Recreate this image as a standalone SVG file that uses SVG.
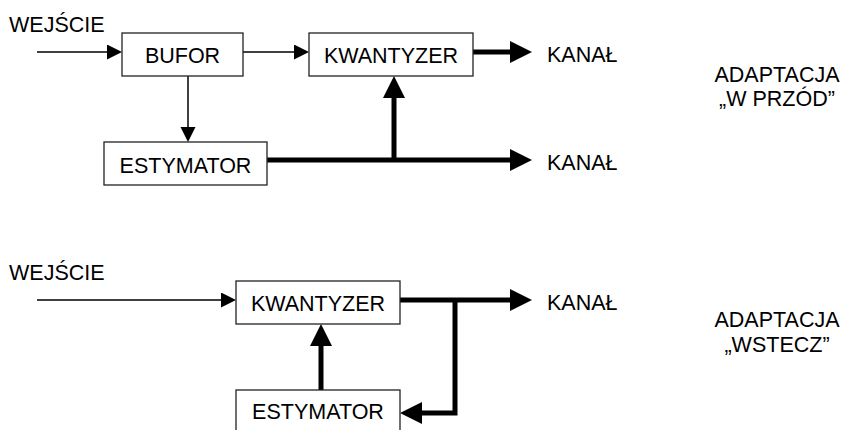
<svg xmlns="http://www.w3.org/2000/svg" width="843" height="430" viewBox="0 0 843 430">
<style>
text{font-family:"Liberation Sans",Arial,sans-serif;font-size:21.5px;fill:#000}
.box{fill:#fff;stroke:#222;stroke-width:1.3}
.thin{fill:none;stroke:#000;stroke-width:1.5}
.thick{fill:none;stroke:#000;stroke-width:5}
.c{text-anchor:middle}
</style>
<defs>
<marker id="ah" markerUnits="userSpaceOnUse" markerWidth="16" markerHeight="16" refX="10" refY="7.5" orient="auto" viewBox="0 0 16 16">
<path d="M0,0 L15,7.5 L0,15 z" fill="#000"/>
</marker>
<marker id="AH" markerUnits="userSpaceOnUse" markerWidth="24" markerHeight="24" refX="10" refY="11" orient="auto" viewBox="0 0 24 24">
<path d="M0,0 L22,11 L0,22 z" fill="#000"/>
</marker>
</defs>

<g id="labels">
<text x="9" y="32">WEJŚCIE</text>
<text x="547" y="62">KANAŁ</text>
<text x="547" y="170">KANAŁ</text>
<text x="777" y="82" class="c">ADAPTACJA</text>
<text x="777" y="106" class="c">„W PRZÓD”</text>
<text x="9" y="280">WEJŚCIE</text>
<text x="547" y="310">KANAŁ</text>
<text x="777" y="327" class="c">ADAPTACJA</text>
<text x="777" y="352" class="c">„WSTECZ”</text>
</g>

<g id="connectors">
<path class="thin" d="M37,52 H117" marker-end="url(#ah)"/>
<path class="thin" d="M243,52 H304" marker-end="url(#ah)"/>
<path class="thin" d="M188,76 V137" marker-end="url(#ah)"/>
<path class="thick" d="M473,52 H520" marker-end="url(#AH)"/>
<path class="thick" d="M267,160 H520" marker-end="url(#AH)"/>
<path class="thick" d="M394,160 V88" marker-end="url(#AH)"/>
<path class="thin" d="M37,300 H231" marker-end="url(#ah)"/>
<path class="thick" d="M400,300 H520" marker-end="url(#AH)"/>
<path class="thick" d="M455,300 V413 H412" marker-end="url(#AH)"/>
<path class="thick" d="M321,390 V336" marker-end="url(#AH)"/>
</g>

<g id="bufor">
<rect class="box" x="122" y="33" width="121" height="43"/>
<text x="182.5" y="63" class="c">BUFOR</text>
</g>
<g id="kwantyzer1">
<rect class="box" x="309" y="33" width="164" height="43"/>
<text x="391" y="63" class="c">KWANTYZER</text>
</g>
<g id="estymator1">
<rect class="box" x="104" y="142" width="163" height="43"/>
<text x="185.5" y="173" class="c">ESTYMATOR</text>
</g>
<g id="kwantyzer2">
<rect class="box" x="236" y="281" width="164" height="43"/>
<text x="318" y="311" class="c">KWANTYZER</text>
</g>
<g id="estymator2">
<rect class="box" x="236" y="390" width="164" height="50"/>
<text x="318" y="419" class="c">ESTYMATOR</text>
</g>
</svg>
